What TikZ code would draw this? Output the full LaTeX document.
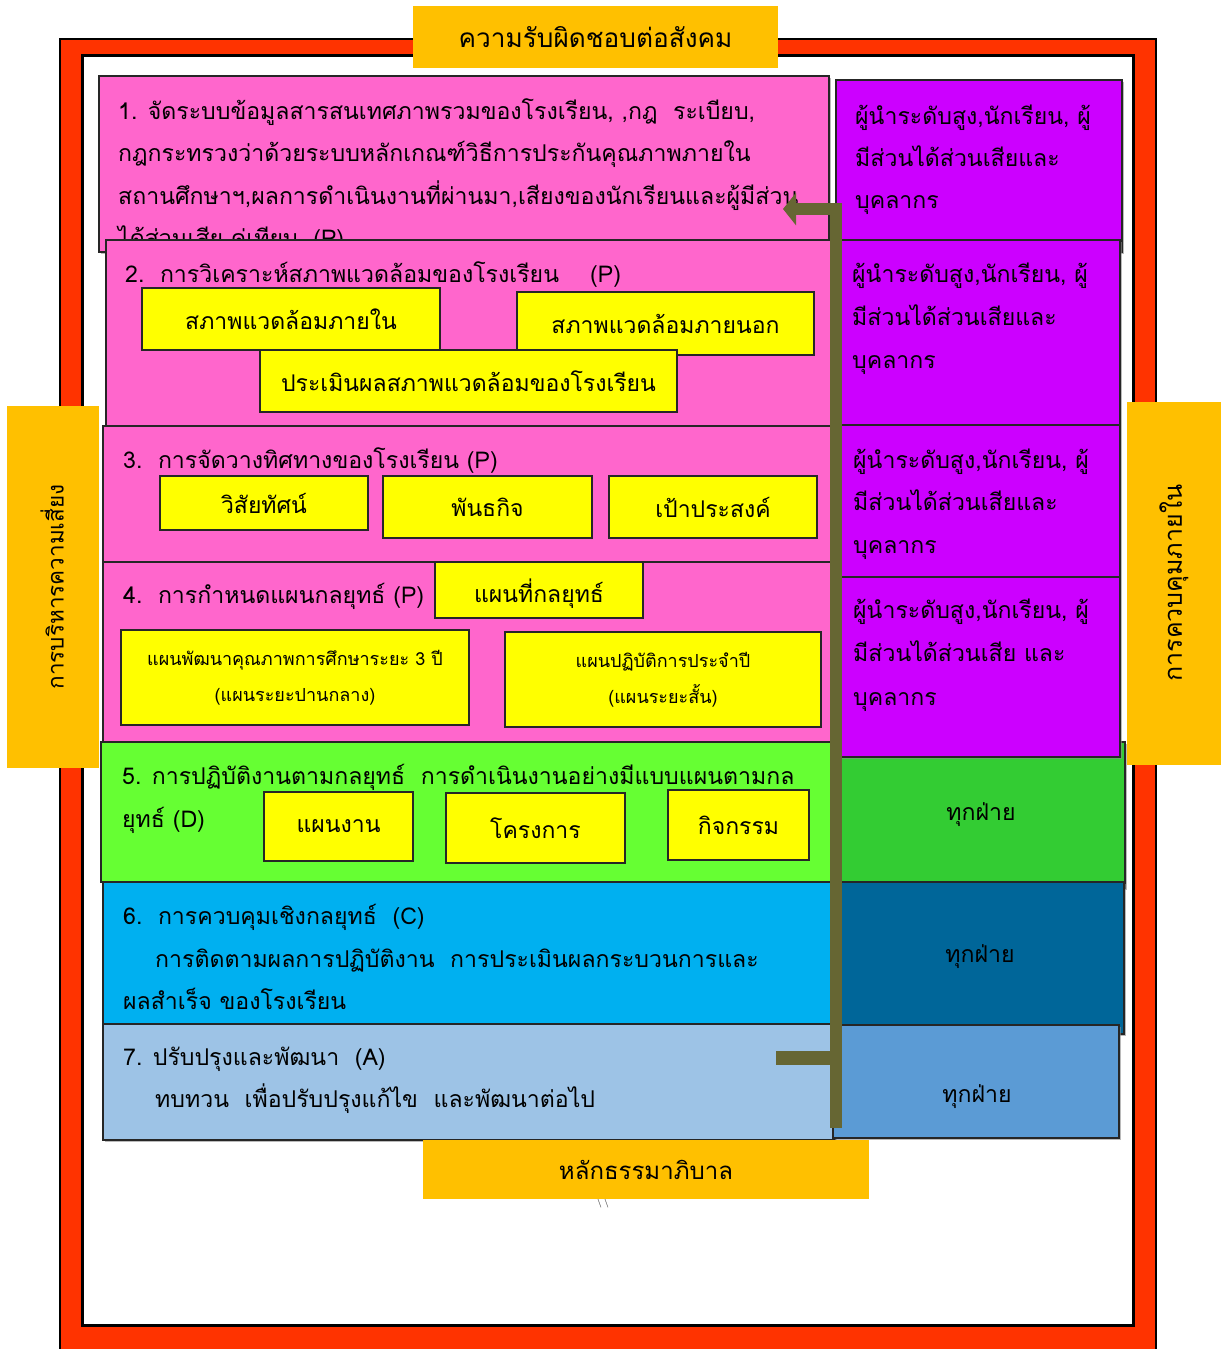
\documentclass[tikz,border=0pt]{standalone}
\usepackage{fontspec}
\newfontfamily\thai[Script=Thai]{Loma}
\usetikzlibrary{arrows.meta,shadows}
\definecolor{framered}{HTML}{FF3300}
\definecolor{labor}{HTML}{FFC000}
\definecolor{pinkrow}{HTML}{FF66CC}
\definecolor{purp}{HTML}{CC00FF}
\definecolor{yel}{HTML}{FFFF00}
\definecolor{grn}{HTML}{66FF33}
\definecolor{grn2}{HTML}{33CC33}
\definecolor{cyn}{HTML}{00B0F0}
\definecolor{dblue}{HTML}{006699}
\definecolor{lblue}{HTML}{9DC3E6}
\definecolor{mblue}{HTML}{5B9BD5}
\definecolor{olv}{HTML}{666633}
\newcommand\rowfnt{\thai\fontsize{23.1}{27}\selectfont}
\newcommand\ybfnt{\thai\fontsize{23}{27}\selectfont}
\newcommand\smfnt{\thai\fontsize{18}{36}\selectfont}
\newcommand\labfnt{\thai\fontsize{25}{28}\selectfont}
\newcommand\leftfnt{\thai\fontsize{22.5}{28}\selectfont}
\newcommand\botfnt{\thai\fontsize{24}{28}\selectfont}
\newcommand\topfnt{\thai\fontsize{26.2}{30}\selectfont}
\begin{document}
\begin{tikzpicture}[x=1pt,y=-1pt,
  bx/.style={draw=black!85, line width=1.2, inner sep=0, outer sep=0,
     drop shadow={shadow xshift=1.5pt, shadow yshift=-1.5pt, fill=black!45, opacity=0.6}},
  yb/.style={draw=black!85, line width=1.3, inner sep=0, outer sep=0, fill=yel, font=\ybfnt, text=black},
  rt/.style={font=\rowfnt, inner sep=0, anchor=base west, text=black},
  lab/.style={fill=labor, inner sep=0, outer sep=0, font=\labfnt, text=black},
  olivebar/.style={draw=olv, line width=12, line join=miter}
]
\useasboundingbox (0,0) rectangle (1222,1349);
\clip (0,0) rectangle (1222,1349);
% frame
\path[fill=framered, draw=black, line width=2] (60,39) rectangle (1156,1420);
\path[fill=white, draw=black, line width=3] (82,55) rectangle (1133,1325);

% row 1
\node[bx, fill=pinkrow, minimum width=730, minimum height=176] (r1) at (464,164) {};
\node[rt] (r1a) at (118,119) {1. จัดระบบข้อมูลสารสนเทศภาพรวมของโรงเรียน, ,กฎ\ \ ระเบียบ,};
\node[rt] (r1b) at (118,161) {กฎกระทรวงว่าด้วยระบบหลักเกณฑ์วิธีการประกันคุณภาพภายใน};
\node[rt] (r1c) at (118,204) {สถานศึกษาฯ,ผลการดำเนินงานที่ผ่านมา,เสียงของนักเรียนและผู้มีส่วน};
\node[rt] (r1d) at (118,246) {ได้ส่วนเสีย คู่เทียบ\ \ (P)};
\node[bx, fill=purp, minimum width=286, minimum height=172] (p1) at (979,166) {};
\node[rt] (p1a) at (855,124) {ผู้นำระดับสูง,นักเรียน, ผู้};
\node[rt] (p1b) at (855,166) {มีส่วนได้ส่วนเสียและ};
\node[rt] (p1c) at (855,208) {บุคลากร};

% row 2
\node[bx, fill=pinkrow, minimum width=727, minimum height=188] (r2) at (469.5,334) {};
\node[rt] (r2a) at (125,282) {2.\ \ การวิเคราะห์สภาพแวดล้อมของโรงเรียน\ \ \ \ (P)};
\node[yb, minimum width=298, minimum height=62] (y2a) at (291,319) {สภาพแวดล้อมภายใน};
\node[yb, minimum width=297, minimum height=63] (y2b) at (665.5,323.5) {สภาพแวดล้อมภายนอก};
\node[yb, minimum width=417, minimum height=62] (y2c) at (468.5,381) {ประเมินผลสภาพแวดล้อมของโรงเรียน};
\node[bx, fill=purp, minimum width=280, minimum height=185] (p2) at (980,332.5) {};
\node[rt] (p2a) at (852,282) {ผู้นำระดับสูง,นักเรียน, ผู้};
\node[rt] (p2b) at (852,325) {มีส่วนได้ส่วนเสียและ};
\node[rt] (p2c) at (852,368) {บุคลากร};

% row 3
\node[bx, fill=pinkrow, minimum width=730, minimum height=136] (r3) at (468,494) {};
\node[rt] (r3a) at (123,468) {3.\ \ การจัดวางทิศทางของโรงเรียน (P)};
\node[yb, minimum width=208, minimum height=54, text depth=-2pt] (y3a) at (264,503) {วิสัยทัศน์};
\node[yb, minimum width=209, minimum height=62] (y3b) at (487.5,507) {พันธกิจ};
\node[yb, minimum width=208, minimum height=62] (y3c) at (713,507) {เป้าประสงค์};
\node[bx, fill=purp, minimum width=280, minimum height=152] (p3) at (980,501) {};
\node[rt] (p3a) at (853,468) {ผู้นำระดับสูง,นักเรียน, ผู้};
\node[rt] (p3b) at (853,510) {มีส่วนได้ส่วนเสียและ};
\node[rt] (p3c) at (853,553) {บุคลากร};

% right column lower box (under purple 4)
\node[bx, fill=grn2, minimum width=289, minimum height=146] (g2) at (980.5,815) {};
\node[font=\rowfnt, inner sep=0] (g2t) at (981,815) {ทุกฝ่าย};

% row 4
\node[bx, fill=pinkrow, minimum width=730, minimum height=180] (r4) at (468,652) {};
\node[rt] (r4a) at (123,603) {4.\ \ การกำหนดแผนกลยุทธ์ (P)};
\node[yb, minimum width=208, minimum height=56] (y4a) at (539,590) {};
\node[font=\ybfnt, inner sep=0] (y4at) at (539,594) {แผนที่กลยุทธ์};
\node[yb, font=\smfnt, align=center, minimum width=348, minimum height=95] (y4b) at (295,677.5) {แผนพัฒนาคุณภาพการศึกษาระยะ 3 ปี\\(แผนระยะปานกลาง)};
\node[yb, font=\smfnt, align=center, minimum width=316, minimum height=95] (y4c) at (663,679.5) {แผนปฏิบัติการประจำปี\\(แผนระยะสั้น)};
\node[bx, fill=purp, minimum width=280, minimum height=180] (p4) at (980,667) {};
\node[rt] (p4a) at (853,618) {ผู้นำระดับสูง,นักเรียน, ผู้};
\node[rt] (p4b) at (853,661) {มีส่วนได้ส่วนเสีย และ};
\node[rt] (p4c) at (853,705) {บุคลากร};

% row 5
\node[bx, fill=grn, minimum width=732, minimum height=140] (r5) at (467,812) {};
\node[rt] (r5a) at (122,784) {5. การปฏิบัติงานตามกลยุทธ์\ \ การดำเนินงานอย่างมีแบบแผนตามกล};
\node[rt] (r5b) at (122,827) {ยุทธ์ (D)};
\node[yb, minimum width=149, minimum height=69] (y5a) at (338.5,826.5) {แผนงาน};
\node[yb, minimum width=179, minimum height=70] (y5b) at (535.5,828) {โครงการ};
\node[yb, minimum width=141, minimum height=70] (y5c) at (738.5,825) {กิจกรรม};

% row 6
\node[bx, fill=dblue, minimum width=288, minimum height=152] (db) at (980,958) {};
\node[font=\rowfnt, inner sep=0] (dbt) at (980,957) {ทุกฝ่าย};
\node[bx, fill=cyn, minimum width=730, minimum height=143] (r6) at (468,953.5) {};
\node[rt] (r6a) at (123,924) {6.\ \ การควบคุมเชิงกลยุทธ์\ \ (C)};
\node[rt] (r6b) at (155,967) {การติดตามผลการปฏิบัติงาน\ \ การประเมินผลกระบวนการและ};
\node[rt] (r6c) at (123,1009) {ผลสำเร็จ ของโรงเรียน};

% row 7
\node[bx, fill=lblue, minimum width=732, minimum height=116] (r7) at (469,1082) {};
\node[rt] (r7a) at (123,1065) {7. ปรับปรุงและพัฒนา\ \ (A)};
\node[rt] (r7b) at (155,1107) {ทบทวน\ \ เพื่อปรับปรุงแก้ไข\ \ และพัฒนาต่อไป};
\node[bx, fill=mblue, minimum width=286, minimum height=113] (mb) at (976,1081.5) {};
\node[font=\rowfnt, inner sep=0] (mbt) at (977,1097) {ทุกฝ่าย};

% stray mark and labels
\node[font=\fontsize{14}{14}\selectfont, text=black!70, inner sep=0] (bsl) at (602,1201) {\textbackslash\textbackslash};
\node[lab, font=\topfnt, minimum width=365, minimum height=62] (ltop) at (595.5,37) {ความรับผิดชอบต่อสังคม};
\node[lab, font=\botfnt, minimum width=446, minimum height=59] (lbot) at (646,1169.5) {หลักธรรมาภิบาล};
\node[lab, minimum width=92, minimum height=362] (lleft) at (53,587) {};
\node[font=\leftfnt, rotate=90, inner sep=0] (llt) at (52,587) {การบริหารความเสี่ยง};
\node[lab, minimum width=94, minimum height=363] (lright) at (1174,583.5) {};
\node[font=\labfnt, rotate=90, inner sep=0] (lrt) at (1174,583) {การควบคุมภายใน};

% olive connector
\coordinate (barbot) at (836,1128);
\coordinate (bartop) at (836,209);
\coordinate (arrtip) at (783,209);
\coordinate (tickin) at (836,1058);
\coordinate (tickout) at (776,1058);
\draw[olivebar, -{Triangle[length=13pt,width=32pt]}] (barbot) -- (bartop) -- (arrtip);
\draw[draw=olv, line width=14] (tickin) -- (tickout);
\end{tikzpicture}
\end{document}
